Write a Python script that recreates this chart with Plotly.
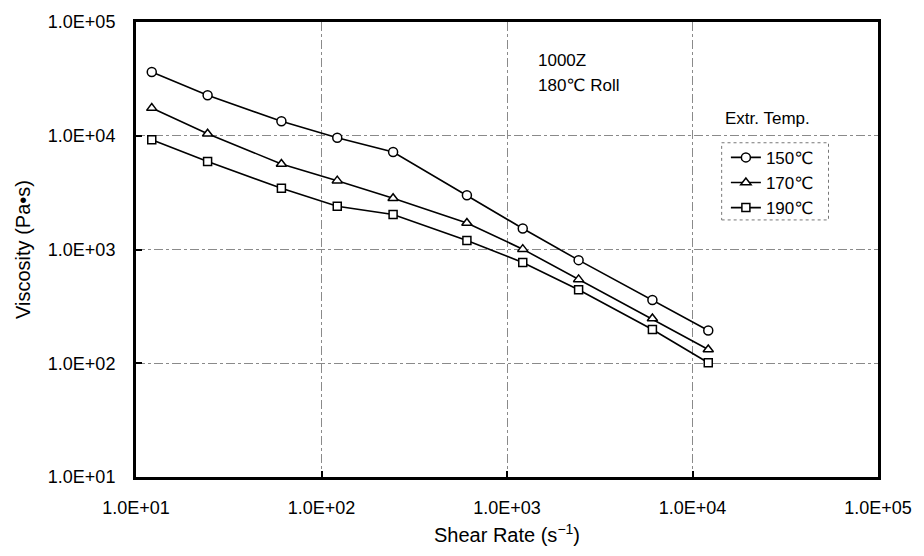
import plotly.graph_objects as go

shear_rate = [12.16, 24.32, 60.8, 121.6, 243.2, 608, 1216, 2432, 6080, 12160]
visc_150 = [36400, 22700, 13400, 9600, 7200, 3000, 1530, 806, 360, 194]
visc_170 = [17500, 10400, 5650, 4030, 2820, 1710, 1007, 546, 247, 132]
visc_190 = [9200, 5950, 3450, 2400, 2030, 1200, 770, 443, 198, 101]
series_names = ["150℃", "170℃", "190℃"]
tick_vals = [10, 100, 1000, 10000, 100000]
tick_text = ["1.0E+01", "1.0E+02", "1.0E+03", "1.0E+04", "1.0E+05"]

FONT = "Liberation Sans, Arial, DejaVu Sans, sans-serif"
symbols = ["circle", "triangle-up", "square"]
sizes = [9, 9, 8]

fig = go.Figure()
for name, ys, sym, sz in zip(series_names, [visc_150, visc_170, visc_190], symbols, sizes):
    fig.add_trace(go.Scatter(
        x=shear_rate, y=ys, name=name, mode="lines+markers",
        line=dict(color="black", width=1.6),
        marker=dict(symbol=sym, size=sz, color="white", line=dict(color="black", width=1.5)),
    ))

axis_common = dict(
    type="log", showline=True, linecolor="black", linewidth=3, mirror=True,
    ticks="inside", ticklen=6, tickwidth=2, tickcolor="black",
    tickvals=tick_vals, ticktext=tick_text,
    showgrid=True, gridcolor="#8a8a8a", gridwidth=1, griddash="dashdot",
    zeroline=False, tickfont=dict(family=FONT, size=18, color="black"),
)

fig.update_layout(
    width=924, height=556,
    margin=dict(l=136, r=38, t=21, b=79),
    paper_bgcolor="white", plot_bgcolor="white",
    font=dict(family=FONT, size=18, color="black"),
    xaxis=dict(range=[1, 5], ticklabelstandoff=12,
               title=dict(text="Shear Rate (s<sup>−1</sup>)", font=dict(size=20), standoff=12),
               **axis_common),
    yaxis=dict(range=[1, 5], ticklabelstandoff=14,
               title=dict(text="Viscosity (Pa•s)", font=dict(size=20), standoff=12),
               **axis_common),
    showlegend=True,
    legend=dict(x=0.795, y=0.741, xanchor="left", yanchor="top",
                bgcolor="rgba(0,0,0,0)", borderwidth=0,
                font=dict(family=FONT, size=17), tracegroupgap=0, itemwidth=30),
)

fig.add_shape(type="rect", xref="paper", yref="paper",
              x0=0.7893, x1=0.9333, y0=0.565, y1=0.7346,
              line=dict(color="#777", width=1, dash="dot"), fillcolor="rgba(0,0,0,0)")

fig.add_annotation(text="1000Z", xref="paper", yref="paper", x=0.5387, y=0.9145,
                   xanchor="left", yanchor="middle", showarrow=False, font=dict(size=17))
fig.add_annotation(text="180℃ Roll", xref="paper", yref="paper", x=0.5387, y=0.8596,
                   xanchor="left", yanchor="middle", showarrow=False, font=dict(size=17))
fig.add_annotation(text="Extr. Temp.", xref="paper", yref="paper", x=0.8507, y=0.787,
                   xanchor="center", yanchor="middle", showarrow=False, font=dict(size=17))

fig.write_html("out.html")
